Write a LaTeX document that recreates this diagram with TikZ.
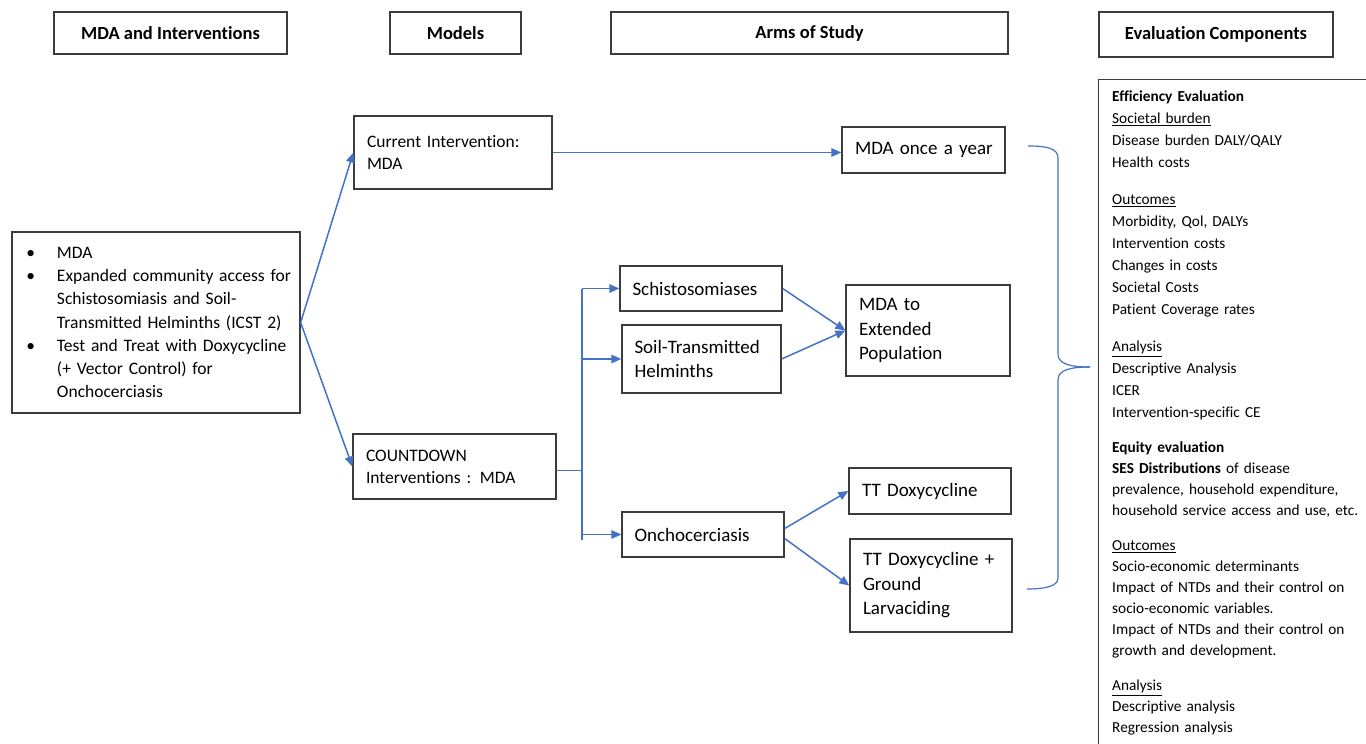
\documentclass[tikz,border=0pt]{standalone}
\usepackage{fontspec}
\setmainfont{Carlito}[Ligatures=NoCommon]
\usetikzlibrary{arrows.meta}
\definecolor{lineblue}{HTML}{4472C4}
\definecolor{boxgray}{HTML}{3C3C3C}
\begin{document}
\begin{tikzpicture}[x=1pt,y=-1pt,
  box/.style={draw=boxgray, line width=1.3pt, inner sep=0pt, align=left},
  hdr/.style={box, font=\bfseries\fontsize{18.5}{22}\selectfont, align=center},
  modelbox/.style={box, font=\fontsize{17.5}{22}\selectfont, inner xsep=13pt},
  armbox/.style={box, font=\fontsize{19}{24.5}\selectfont, inner xsep=12.5pt},
  conn/.style={draw=lineblue, line width=1.5pt, -{Triangle[length=10pt,width=8.5pt]}},
  bus/.style={draw=lineblue, line width=1.5pt}]
\useasboundingbox (0,0) rectangle (1366,744);
\clip (0,0) rectangle (1366,744);
\fill[white] (0,0) rectangle (1366,744);

% headers
\node[hdr, minimum width=233, minimum height=42] (h1) at (170.5,33) {MDA and Interventions};
\node[hdr, minimum width=131, minimum height=42] (h2) at (455.5,33) {Models};
\node[hdr, minimum width=397, minimum height=42] (h3) at (809.5,33) {Arms of Study};
\node[hdr, minimum width=234, minimum height=45] (h4) at (1216,34.5) {Evaluation Components};

% left box
\node[box, text width=288, minimum height=181, font=\fontsize{17.5}{23.3}\selectfont] (mda) at (156,322.5) {\leftskip=45pt
\noindent\llap{\textbullet\hspace{22pt}}MDA\par
\noindent\llap{\textbullet\hspace{22pt}}\mbox{Expanded community access for}\\\mbox{Schistosomiasis and Soil-}\\\mbox{Transmitted Helminths (ICST 2)}\par
\noindent\llap{\textbullet\hspace{22pt}}\mbox{Test and Treat with Doxycycline}\\\mbox{(+ Vector Control) for}\\Onchocerciasis\par};

% models
\node[modelbox, text width=172, minimum height=73] (cur) at (453,152.5) {\mbox{Current Intervention:}\\MDA};
\node[modelbox, text width=177, minimum height=65] (cd) at (454.5,466.5) {COUNTDOWN\\\mbox{Interventions : MDA}};

% diseases
\node[armbox, text width=137, minimum height=45] (sch) at (701,288.5) {\mbox{Schistosomiases}};
\node[armbox, text width=134, minimum height=68] (sth) at (701.5,359) {\mbox{Soil-Transmitted}\\Helminths};
\node[armbox, text width=137, minimum height=45] (onc) at (703,534.5) {\mbox{Onchocerciasis}};

% arms
\node[armbox, inner xsep=13pt, text width=137, minimum height=46] (once) at (923.5,150) {\mbox{MDA once a year}};
\node[armbox, inner xsep=13pt, text width=138, minimum height=91] (ext) at (928,330.5) {MDA to\\Extended\\Population};
\node[armbox, inner xsep=13pt, text width=136, minimum height=46] (tt) at (930,491) {\mbox{TT Doxycycline}};
\node[armbox, inner xsep=13pt, text width=136, minimum height=93] (ttg) at (931,585.5) {\mbox{TT Doxycycline +}\\Ground\\Larvaciding};

% evaluation panel
\node[draw=boxgray, line width=1.3pt, minimum width=272, minimum height=672, anchor=north west, inner sep=0pt] (panel) at (1098,79) {};
\node[anchor=north west, text width=262, inner sep=0pt, align=left, font=\fontsize{15.3}{22}\selectfont] (ptext) at (1112,91) {%
\textbf{Efficiency Evaluation}\\
\underline{Societal burden}\\
Disease burden DALY/QALY\\
Health costs\par\vspace{15pt}
\underline{Outcomes}\\
Morbidity, Qol, DALYs\\
Intervention costs\\
Changes in costs\\
Societal Costs\\
Patient Coverage rates\par\vspace{15pt}
\underline{Analysis}\\
Descriptive Analysis\\
ICER\\
Intervention-specific CE\par\vspace{14pt}
\fontsize{15.3}{21}\selectfont
\textbf{Equity evaluation}\\
\textbf{SES Distributions} of disease\\
prevalence, household expenditure,\\
\mbox{household service access and use, etc.}\par\vspace{14pt}
\underline{Outcomes}\\
Socio-economic determinants\\
\mbox{Impact of NTDs and their control on}\\
socio-economic variables.\\
\mbox{Impact of NTDs and their control on}\\
growth and development.\par\vspace{14pt}
\underline{Analysis}\\
Descriptive analysis\\
Regression analysis\par};

% connectors
\draw[conn] (mda.east) -- (cur.west);
\draw[conn] (mda.east) -- (cd.west);
\draw[conn] (cur.east) -- (cur.east -| once.west);
\coordinate (bt) at (582,288.5);
\coordinate (bb) at (582,540);
\draw[bus] (bt) -- (bb);
\draw[bus] ([yshift=-4pt]cd.east) -- ([yshift=-4pt]cd.east -| bt);
\draw[conn] (bt) -- (bt -| sch.west);
\draw[conn] (sth.west -| bt) -- (sth.west);
\draw[conn] (onc.west -| bt) -- (onc.west);
\draw[conn] (sch.east) -- (ext.west);
\draw[conn] (sth.east) -- (ext.west);
\draw[conn] ([yshift=6pt]onc.east) -- (tt.west);
\draw[conn] ([yshift=-4pt]onc.east) -- (ttg.west);

% brace
\coordinate (brtop) at (1028,146);
\coordinate (brtip) at (1090,367);
\coordinate (brbot) at (1027,589);
\draw[bus, line width=1.2pt] (brtop) .. controls (1046,146) and (1058,148) .. (1058,158) -- (1058,354) .. controls (1058,364) and (1070,367) .. (brtip);
\draw[bus, line width=1.2pt] (brtip) .. controls (1070,367) and (1058,370) .. (1058,380) -- (1058,578) .. controls (1058,586) and (1046,589) .. (brbot);
\end{tikzpicture}
\end{document}
